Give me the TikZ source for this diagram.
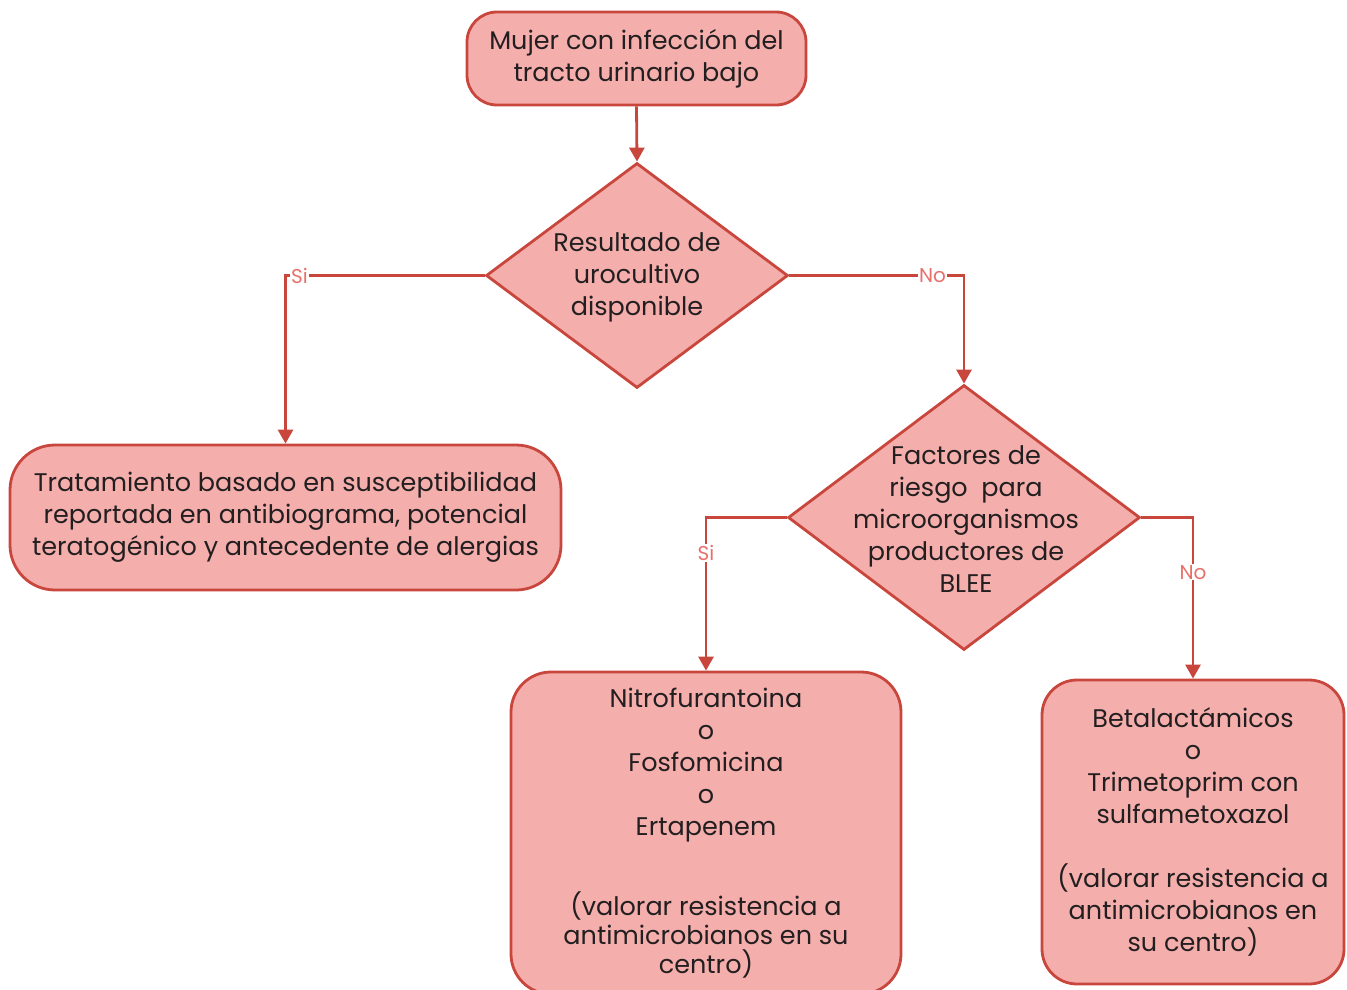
\documentclass[tikz,border=0pt]{standalone}
\usepackage{fontspec}
\setmainfont{Poppins}
\usetikzlibrary{shapes.geometric,arrows.meta}
\definecolor{boxfill}{HTML}{F4AEAC}
\definecolor{boxline}{HTML}{C9463D}
\definecolor{lbl}{HTML}{E8706A}
\definecolor{txt}{HTML}{231F20}
\begin{document}
\begin{tikzpicture}[x=1pt,y=-1pt,
  box/.style={draw=boxline, fill=boxfill, line width=2.8pt, rounded corners=#1, inner sep=0pt,
    text=txt, align=center, font={\fontsize{25.5}{32}\selectfont}},
  box/.default=30pt,
  dia/.style={diamond, draw=boxline, fill=boxfill, line width=2.8pt, inner sep=0pt},
  diatext/.style={text=txt, align=center, font={\fontsize{25.5}{32}\selectfont}, inner sep=0pt},
  arr/.style={draw=boxline, line width=2.8pt, -{Triangle[length=14pt,width=15pt]}},
  lab/.style={fill=white, text=lbl, inner sep=1pt, font={\fontsize{20}{22}\selectfont}}
]
\useasboundingbox (0,0) rectangle (1347,990);

\node[box=30pt, minimum width=339pt, minimum height=93pt] (start) at (636.5,58.5)
  {Mujer con infección del\\tracto urinario bajo};

\node[dia, minimum width=302pt, minimum height=225pt] (d1) at (637,275.5) {};
\node[diatext] (d1t) at (637,277) {Resultado de\\urocultivo\\disponible};

\node[box=45pt, minimum width=551pt, minimum height=145pt] (left) at (285.5,517.5)
  {Tratamiento basado en susceptibilidad\\reportada en antibiograma, potencial\\teratogénico y antecedente de alergias};

\node[dia, minimum width=352pt, minimum height=265pt] (d2) at (964,517.5) {};
\node[diatext] (d2t) at (966,519) {Factores de\\riesgo~ para\\microorganismos\\productores de\\BLEE};

\node[box=40pt, minimum width=390pt, minimum height=322pt] (b3) at (706,833)
  {Nitrofurantoina\\o\\Fosfomicina\\o\\Ertapenem\\[48pt](valorar resistencia a\\[-3pt]antimicrobianos en su\\[-3pt]centro)};

\node[box=35pt, minimum width=302pt, minimum height=304pt] (b4) at (1193,832)
  {Betalactámicos\\o\\Trimetoprim con\\sulfametoxazol\\[32pt](valorar resistencia a\\antimicrobianos en\\su centro)};

\draw[arr] (start.south) -- (d1.north);
\draw[arr] (d1.west) -| node[lab, pos=0.465] {Si} (left.north);
\draw[arr] (d1.east) -| node[lab, pos=0.41] {No} (d2.north);
\draw[arr] (d2.west) -| node[lab, pos=0.616] {Si} (b3.north);
\draw[arr] (d2.east) -| node[lab, pos=0.67] {No} (b4.north);
\end{tikzpicture}
\end{document}
